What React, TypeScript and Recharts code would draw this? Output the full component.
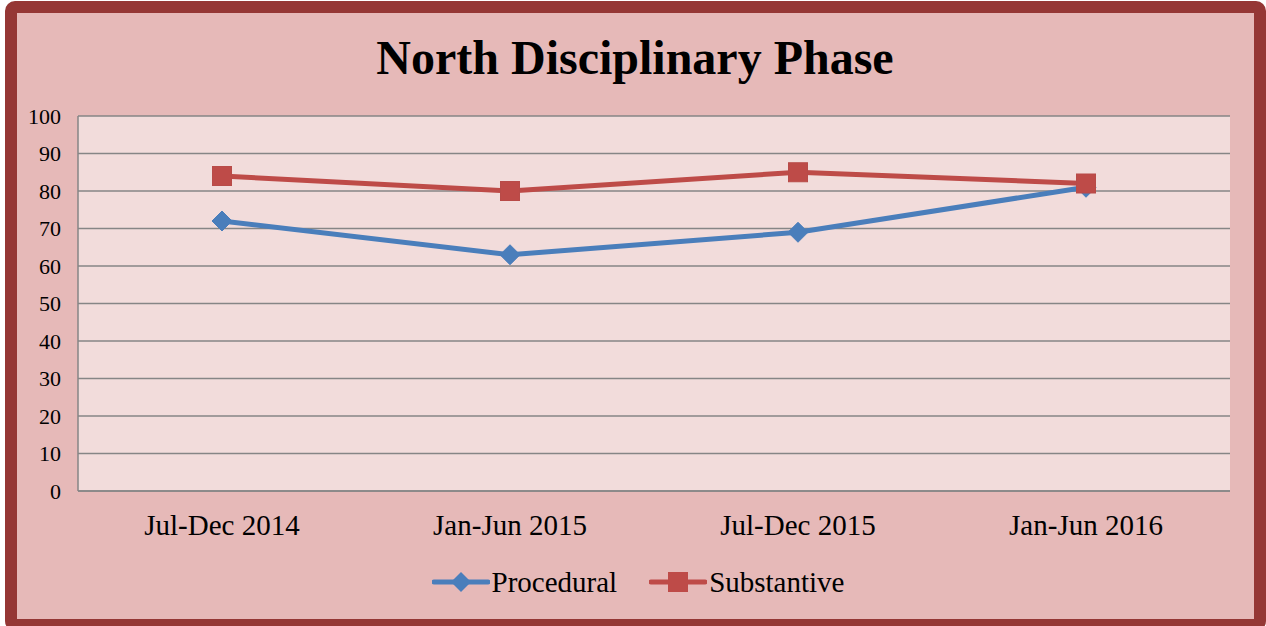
import React from "react";
import { LineChart, Line, XAxis, YAxis, CartesianGrid, Legend } from "recharts";

const categories = ["Jul-Dec 2014", "Jan-Jun 2015", "Jul-Dec 2015", "Jan-Jun 2016"];
const procedural = [72, 63, 69, 81];
const substantive = [84, 80, 85, 82];
const yTicks = [0, 10, 20, 30, 40, 50, 60, 70, 80, 90, 100];

const data = categories.map((c, i) => ({ name: c, Procedural: procedural[i], Substantive: substantive[i] }));

const BLUE = "#4A7EBB";
const RED = "#BE4B48";
const FONT = "'Liberation Serif', 'Times New Roman', serif";

const Diamond = (props: any) => {
  const { cx, cy } = props;
  if (cx == null || cy == null) return null;
  const r = 10;
  return <path d={`M${cx},${cy - r}L${cx + r},${cy}L${cx},${cy + r}L${cx - r},${cy}Z`} fill={BLUE} stroke={BLUE} strokeWidth={1} />;
};

const Square = (props: any) => {
  const { cx, cy } = props;
  if (cx == null || cy == null) return null;
  const s = 19;
  return <rect x={cx - s / 2} y={cy - s / 2} width={s} height={s} fill={RED} stroke="#B84B48" strokeWidth={1} />;
};

const LegendContent = () => (
  <div style={{ display: "flex", justifyContent: "center", alignItems: "center", height: 40, fontFamily: FONT, fontSize: 29, color: "#000", paddingLeft: 46 }}>
    <svg width={58} height={20}>
      <line x1={2} y1={10} x2={56} y2={10} stroke={BLUE} strokeWidth={5} strokeLinecap="round" />
      <path d="M29,0L39,10L29,20L19,10Z" fill={BLUE} />
    </svg>
    <span style={{ marginLeft: 2, marginRight: 32 }}>Procedural</span>
    <svg width={58} height={20}>
      <line x1={2} y1={10} x2={56} y2={10} stroke={RED} strokeWidth={5} strokeLinecap="round" />
      <rect x={19} y={0} width={20} height={20} fill={RED} />
    </svg>
    <span style={{ marginLeft: 2 }}>Substantive</span>
  </div>
);

export default function App() {
  return (
    <div style={{ position: "absolute", left: 0, top: 0, width: 1266, height: 626, overflow: "hidden", background: "#fff" }}>
      <div
        style={{
          position: "absolute",
          left: 5,
          top: 1,
          width: 1261,
          height: 630,
          boxSizing: "border-box",
          border: "12px solid #953735",
          borderRadius: 10,
          background: "#E6B9B8",
        }}
      />
      <div
        style={{
          position: "absolute",
          left: 0,
          top: 28,
          width: 1270,
          textAlign: "center",
          fontFamily: FONT,
          fontWeight: "bold",
          fontSize: 48,
          lineHeight: "60px",
          color: "#000",
        }}
      >
        North Disciplinary Phase
      </div>
      <div style={{ position: "absolute", left: 0, top: 0 }}>
        <LineChart width={1266} height={626} data={data} margin={{ top: 116, right: 36, bottom: 24, left: 0 }}>
          <CartesianGrid vertical={false} stroke="#868686" strokeWidth={1.5} fill="#F2DCDB" fillOpacity={1} />
          <XAxis
            dataKey="name"
            height={71}
            padding={{ left: 144, right: 144 }}
            tickLine={false}
            tickSize={0}
            axisLine={{ stroke: "#868686", strokeWidth: 1.5 }}
            tick={{ fontFamily: FONT, fontSize: 29, fill: "#000" }}
            tickMargin={23}
          />
          <YAxis
            width={78}
            domain={[0, 100]}
            ticks={yTicks}
            interval={0}
            tickLine={false}
            tickSize={0}
            tickMargin={17}
            axisLine={{ stroke: "#868686", strokeWidth: 1.5 }}
            tick={{ fontFamily: FONT, fontSize: 22, fill: "#000" }}
          />
          <Legend verticalAlign="bottom" height={40} content={<LegendContent />} />
          <Line
            dataKey="Procedural"
            stroke={BLUE}
            strokeWidth={5}
            dot={<Diamond />}
            activeDot={false}
            isAnimationActive={false}
          />
          <Line
            dataKey="Substantive"
            stroke={RED}
            strokeWidth={5}
            dot={<Square />}
            activeDot={false}
            isAnimationActive={false}
          />
        </LineChart>
      </div>
    </div>
  );
}
